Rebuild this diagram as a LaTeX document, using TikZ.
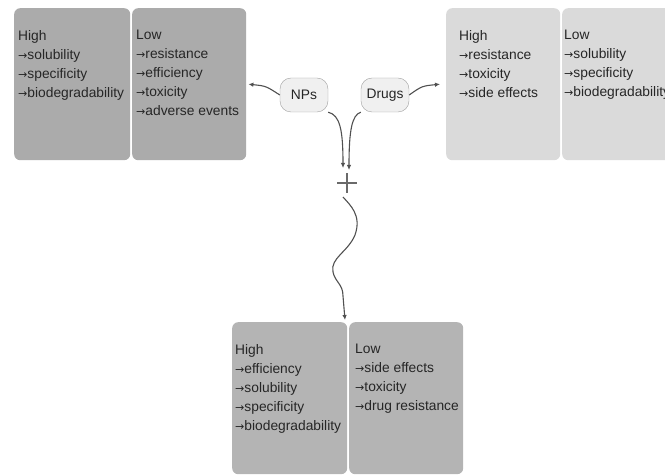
\documentclass[tikz,border=0pt]{standalone}
\usepackage{fontspec}
\setmainfont{Liberation Sans}
\newfontfamily\arrowfont{DejaVu Sans}[Scale=0.8]
\usetikzlibrary{arrows.meta}
\newcommand\ra{{\arrowfont →}}
\definecolor{darkbox}{HTML}{ABABAB}
\definecolor{lightbox}{HTML}{DADADA}
\definecolor{midbox}{HTML}{B4B4B4}
\definecolor{txtc}{HTML}{262626}
\definecolor{linec}{HTML}{505050}
\definecolor{pillfill}{HTML}{F0F0F0}
\definecolor{pilldraw}{HTML}{A0A0A0}
\tikzset{
  panel/.style={rounded corners=6pt, inner sep=0pt, anchor=north west, minimum width=114pt, minimum height=152pt},
  txt/.style={anchor=north west, align=left, inner sep=0pt, text=txtc, font=\fontsize{13.8}{19}\selectfont},
  pill/.style={draw=pilldraw, fill=pillfill, rounded corners=11pt, minimum width=48pt, minimum height=34pt, inner sep=2pt, text=txtc, font=\fontsize{13.8}{15}\selectfont},
  conn/.style={draw=linec, line width=1.1pt, -{Latex[length=5pt,width=4.5pt]}},
}
\begin{document}
\begin{tikzpicture}[x=1pt,y=-1pt]
\useasboundingbox (0,0) rectangle (665,476);
% top-left panels
\node[panel, fill=darkbox, minimum width=116pt] (L1) at (14,8) {};
\node[panel, fill=darkbox] (L2) at (132,8) {};
\node[txt] (L1t) at (18,30) {High\\\ra solubility\\\ra specificity\\\ra biodegradability};
\node[txt] (L2t) at (136,30) {Low\\\ra resistance\\\ra efficiency\\\ra toxicity\\\ra adverse events};
% top-right panels
\node[panel, fill=lightbox] (R1) at (446,8) {};
\node[panel, fill=lightbox] (R2) at (562,8) {};
\node[txt] (R1t) at (459,30) {High\\\ra resistance\\\ra toxicity\\\ra side effects};
\node[txt] (R2t) at (564,30) {Low\\\ra solubility\\\ra specificity\\\ra biodegradability};
% bottom panels
\node[panel, fill=midbox, minimum width=115pt] (B1) at (232,322) {};
\node[panel, fill=midbox] (B2) at (349,322) {};
\node[txt] (B1t) at (235,344) {High\\\ra efficiency\\\ra solubility\\\ra specificity\\\ra biodegradability};
\node[txt] (B2t) at (355,344) {Low\\\ra side effects\\\ra toxicity\\\ra drug resistance};
% pills
\node[pill] (NP) at (304,95) {NPs};
\node[pill] (DR) at (385,95) {Drugs};
% plus sign
\coordinate (plus) at (347,183);
\draw[draw=linec!85, line width=2pt] ([xshift=-10pt]plus) -- ([xshift=10pt]plus);
\draw[draw=linec!85, line width=2pt] ([yshift=-10pt]plus) -- ([yshift=10pt]plus);
\coordinate (tipL) at (343,168);
\coordinate (tipR) at (349,170);
\coordinate (btop) at (345,320);
\coordinate (wstart) at (343,197);
% connectors
\draw[conn] (NP.west) .. controls (266,86) .. ([xshift=2pt]L2.east);
\draw[conn] (DR.east) .. controls (422,86) .. ([xshift=-6pt]R1.west);
\draw[conn] (NP.south east) .. controls (340,115) and (343,130) .. (tipL);
\draw[conn] (DR.south west) .. controls (352,115) and (349,130) .. (tipR);
\draw[conn] (wstart) .. controls (350,205) and (362,215) .. (355,235)
  .. controls (348,252) and (330,258) .. (333,272)
  .. controls (335,282) and (343,284) .. (343,296) -- (btop);
\end{tikzpicture}
\end{document}
